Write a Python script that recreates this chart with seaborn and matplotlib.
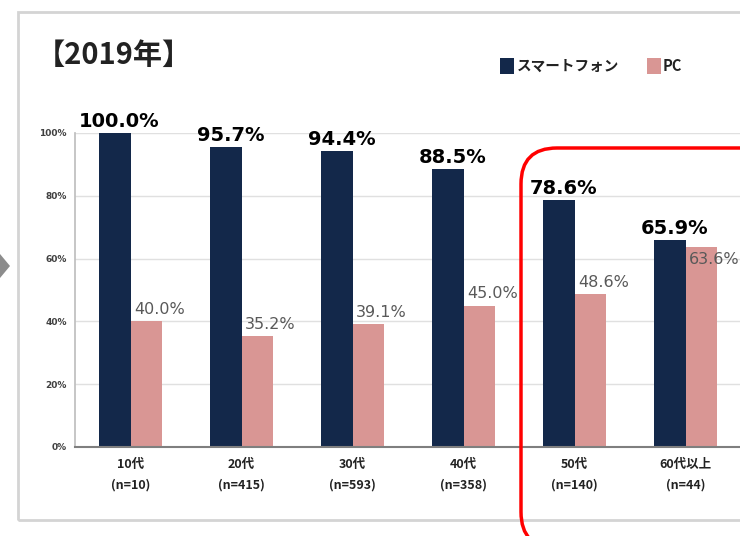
import numpy as np
import pandas as pd
import matplotlib
matplotlib.use("Agg")
import matplotlib.pyplot as plt
from matplotlib.patches import Rectangle, FancyBboxPatch, Polygon
from matplotlib.transforms import IdentityTransform
import seaborn as sns

categories = ["10代\n(n=10)", "20代\n(n=415)", "30代\n(n=593)", "40代\n(n=358)", "50代\n(n=140)", "60代以上\n(n=44)"]
series_names = ["スマートフォン", "PC"]
smartphone = [100.0, 95.7, 94.4, 88.5, 78.6, 65.9]
pc = [40.0, 35.2, 39.1, 45.0, 48.6, 63.6]
yticks = [0, 20, 40, 60, 80, 100]
title = "【2019年】"

DARK = "#13284A"
PINK = "#D99694"

sns.set_theme(style="white")
plt.rcParams["font.family"] = ["Noto Sans CJK JP", "DejaVu Sans"]

W, H = 740, 536
fig = plt.figure(figsize=(W / 100, H / 100), dpi=100)

def fx(x):
    return x / W

def fy(y):
    return 1 - y / H

# outer frame
fig.patches.append(Rectangle((fx(18), fy(520)), fx(780) - fx(18), fy(12) - fy(520),
                             transform=fig.transFigure, fill=False,
                             edgecolor="#d4d4d4", linewidth=2, zorder=0))
# left arrow marker
fig.patches.append(Polygon([(fx(0), fy(254)), (fx(10), fy(266)), (fx(0), fy(278))],
                           closed=True, transform=fig.transFigure,
                           facecolor="#8c8c8c", edgecolor="none"))

df = pd.DataFrame({
    "age": categories * 2,
    "device": [series_names[0]] * len(categories) + [series_names[1]] * len(categories),
    "value": [v / 100 for v in smartphone] + [v / 100 for v in pc],
})

ax = fig.add_axes([fx(75), fy(447), (fx(741) - fx(75)), fy(133) - fy(447)])
sns.barplot(data=df, x="age", y="value", hue="device",
            palette=[DARK, PINK], width=0.56, gap=0, ax=ax,
            legend=False, saturation=1, linewidth=0)
ax.set_xlim(-0.5, 5.5)
ax.set_ylim(0, 1.0)
ax.set_yticks([t / 100 for t in yticks])
ax.set_yticklabels([f"{t}%" for t in yticks], fontsize=6.5, fontweight="bold",
                   color="#404040", family=["DejaVu Sans"])
ax.set_xticks(range(len(categories)))
ax.set_xticklabels(categories, fontsize=9, fontweight="bold", color="#222222",
                   linespacing=1.75)
ax.tick_params(axis="x", length=0, pad=8)
ax.tick_params(axis="y", length=0, pad=6)
ax.set_xlabel("")
ax.set_ylabel("")
ax.yaxis.grid(True, color="#e0e0e0", linewidth=1)
ax.set_axisbelow(True)
for s in ["top", "right"]:
    ax.spines[s].set_visible(False)
ax.spines["left"].set_color("#bfbfbf")
ax.spines["bottom"].set_color("#7f7f7f")
ax.spines["bottom"].set_linewidth(1.5)

# labels
dark_bars = ax.containers[0]
pink_bars = ax.containers[1]
for b, v in zip(dark_bars, smartphone):
    ax.text(b.get_x() + b.get_width() / 2 + 0.04, b.get_height() + 0.006, f"{v:.1f}%",
            ha="center", va="bottom", fontsize=14, fontweight="bold",
            color="black", family=["DejaVu Sans"], clip_on=False)
for i, (b, v) in enumerate(zip(pink_bars, pc)):
    if i == len(pc) - 1:
        y, va = b.get_height() - 0.015, "top"
    else:
        y, va = b.get_height() + 0.015, "bottom"
    ax.text(b.get_x() + 0.03, y, f"{v:.1f}%", ha="left", va=va,
            fontsize=11.5, color="#595959", family=["DejaVu Sans"], clip_on=False)

# title
fig.text(fx(36), fy(55), title, ha="left", va="center", fontsize=21,
         fontweight="bold", color="#222222")

# legend
fig.patches.append(Rectangle((fx(500), fy(74)), fx(14), fy(0) - fy(16),
                             transform=fig.transFigure, facecolor=DARK, edgecolor="none"))
fig.text(fx(517), fy(66), series_names[0], ha="left", va="center", fontsize=10.5,
         fontweight="bold", color="#222222")
fig.patches.append(Rectangle((fx(647), fy(74)), fx(14), fy(0) - fy(16),
                             transform=fig.transFigure, facecolor=PINK, edgecolor="none"))
fig.text(fx(663), fy(66), series_names[1], ha="left", va="center", fontsize=10.5,
         fontweight="bold", color="#222222")

# red highlight box (display pixel coordinates)
fig.patches.append(FancyBboxPatch((521, H - 548), 280, 548 - 148,
                                  boxstyle="round,pad=0,rounding_size=36",
                                  transform=IdentityTransform(), fill=False,
                                  edgecolor="#ff0000", linewidth=2.5, zorder=10))

fig.savefig("out.png", dpi=100)
